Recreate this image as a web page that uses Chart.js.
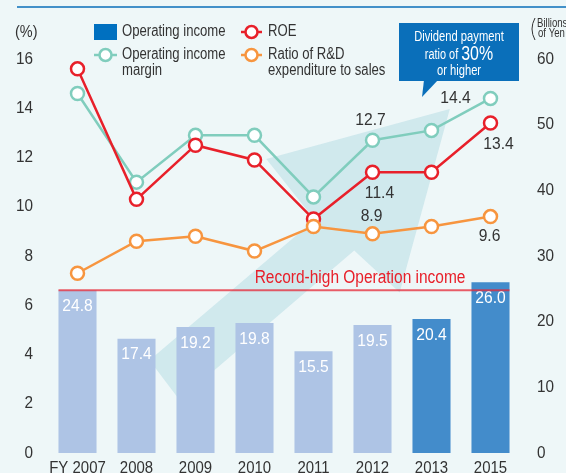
<!DOCTYPE html>
<html>
<head>
<meta charset="utf-8">
<script src="https://cdn.jsdelivr.net/npm/chart.js@4.4.1/dist/chart.umd.min.js"></script>
<style>
  html, body { margin: 0; padding: 0; background: #eef7f8; }
  #wrap { position: relative; width: 566px; height: 473px; }
</style>
</head>
<body>
<div id="wrap"><canvas id="chart"></canvas></div>
<script>
// fiscal years
const years = ['FY 2007', '2008', '2009', '2010', '2011', '2012', '2013', '2015'];
// billions of yen (right axis)
const operatingIncome = [24.8, 17.4, 19.2, 19.8, 15.5, 19.5, 20.4, 26.0];
// percent (left axis)
const roe = [15.6, 10.3, 12.5, 11.9, 9.5, 11.4, 11.4, 13.4];
const operatingMargin = [14.6, 11.0, 12.9, 12.9, 10.4, 12.7, 13.1, 14.4];
const rdRatio = [7.3, 8.6, 8.8, 8.2, 9.2, 8.9, 9.2, 9.6];
// years whose line points carry a value label
const labelledYears = ['2012', '2015'];

const FONT = "'Liberation Sans', Arial, sans-serif";
const BLUE = '#0a6fba';
const RED = '#e8202a';
const TEAL = '#80cdbd';
const ORANGE = '#f7953f';
const TEXT = '#333333';

// background arrow, in (category index, left-axis %) units
const arrowShape = [[1.22, 3.77], [1.73, 2.15], [4.69, 8.22], [5.46, 6.52],
                    [6.31, 13.97], [3.20, 11.94], [4.02, 9.47]];

// where each line's value label sits relative to its point
const labelOffsets = {
  'Operating income margin': { '2012': [-2, -20], '2015': [-35, 0] },
  'ROE': { '2012': [7, 21], '2015': [8, 21] },
  'Ratio of R&D expenditure to sales': { '2012': [-1, -18], '2015': [-1, 20] }
};

// the original uses a condensed face; squeeze a regular one to match
function squeezeText(ctx, text, x, y, size, squeeze, align) {
  ctx.save();
  ctx.font = `${size}px ${FONT}`;
  const w = ctx.measureText(text).width * squeeze;
  let left = x;
  if (align === 'center') left = x - w / 2;
  else if (align === 'right') left = x - w;
  ctx.translate(left, y);
  ctx.scale(squeeze, 1);
  ctx.textAlign = 'left';
  ctx.fillText(text, 0, 0);
  ctx.restore();
  return w;
}

function lineDataset(label, data, color, order) {
  return {
    type: 'line',
    label: label,
    data: data,
    yAxisID: 'y',
    borderColor: color,
    borderWidth: 2.5,
    pointRadius: 6.5,
    pointHoverRadius: 6.5,
    pointBorderWidth: 2.5,
    pointBackgroundColor: '#ffffff',
    pointBorderColor: color,
    tension: 0,
    order: order
  };
}

function drawMarker(ctx, x1, x2, y, color) {
  ctx.strokeStyle = color;
  ctx.lineWidth = 2.5;
  ctx.beginPath();
  ctx.moveTo(x1, y);
  ctx.lineTo(x2, y);
  ctx.stroke();
  ctx.beginPath();
  ctx.arc((x1 + x2) / 2, y, 6, 0, Math.PI * 2);
  ctx.fillStyle = '#ffffff';
  ctx.fill();
  ctx.stroke();
}

const arrowPlugin = {
  id: 'arrow',
  beforeDatasetsDraw(chart) {
    const { ctx, scales } = chart;
    ctx.save();
    ctx.fillStyle = 'rgba(170, 215, 225, 0.45)';
    ctx.beginPath();
    arrowShape.forEach(([cx, cy], i) => {
      const px = scales.x.getPixelForValue(cx);
      const py = scales.y.getPixelForValue(cy);
      if (i === 0) ctx.moveTo(px, py); else ctx.lineTo(px, py);
    });
    ctx.closePath();
    ctx.fill();
    ctx.restore();
  }
};

const annotationPlugin = {
  id: 'annotations',
  afterDatasetsDraw(chart) {
    const { ctx, scales } = chart;
    ctx.save();
    ctx.textBaseline = 'middle';

    // bar values
    const barMeta = chart.getDatasetMeta(0);
    ctx.fillStyle = '#ffffff';
    barMeta.data.forEach((bar, i) => {
      squeezeText(ctx, operatingIncome[i].toFixed(1), bar.x, bar.y + 16, 17, 0.92, 'center');
    });

    // record-high line at the FY2007 level
    const first = barMeta.data[0];
    const last = barMeta.data[barMeta.data.length - 1];
    const ry = scales.y1.getPixelForValue(operatingIncome[0]);
    ctx.strokeStyle = 'rgba(230, 40, 55, 0.75)';
    ctx.lineWidth = 2;
    ctx.beginPath();
    ctx.moveTo(first.x - first.width / 2, ry);
    ctx.lineTo(last.x + last.width / 2, ry);
    ctx.stroke();
    ctx.fillStyle = RED;
    squeezeText(ctx, 'Record-high Operation income', last.x - last.width / 2 - 6, ry - 12, 18, 0.86, 'right');

    // line value labels
    ctx.fillStyle = TEXT;
    chart.data.datasets.forEach((ds, di) => {
      if (ds.type !== 'line') return;
      const meta = chart.getDatasetMeta(di);
      labelledYears.forEach(yr => {
        const idx = years.indexOf(yr);
        const pt = meta.data[idx];
        const off = labelOffsets[ds.label][yr];
        squeezeText(ctx, ds.data[idx].toFixed(1), pt.x + off[0], pt.y + off[1], 17, 0.92, 'center');
      });
    });
    ctx.restore();
  },
  afterDraw(chart) {
    const { ctx, scales } = chart;
    ctx.save();
    ctx.textBaseline = 'middle';

    // axis tick labels
    ctx.fillStyle = TEXT;
    scales.y.ticks.forEach(t => {
      squeezeText(ctx, String(t.value), 33, scales.y.getPixelForValue(t.value), 17, 0.9, 'right');
    });
    scales.y1.ticks.forEach(t => {
      squeezeText(ctx, String(t.value), 537, scales.y1.getPixelForValue(t.value), 17, 0.9, 'left');
    });
    years.forEach((yr, i) => {
      squeezeText(ctx, yr, scales.x.getPixelForValue(i), 468, 17, 0.88, 'center');
    });

    // top rule
    ctx.strokeStyle = BLUE;
    ctx.lineWidth = 1.5;
    ctx.beginPath();
    ctx.moveTo(17, 7);
    ctx.lineTo(566, 7);
    ctx.stroke();

    ctx.fillStyle = TEXT;
    squeezeText(ctx, '(%)', 15, 32, 17, 0.85, 'left');

    // legend
    ctx.fillStyle = '#0070c0';
    ctx.fillRect(94, 24, 23, 16);
    ctx.fillStyle = TEXT;
    squeezeText(ctx, 'Operating income', 122, 32, 16, 0.82, 'left');
    drawMarker(ctx, 241, 262, 32, RED);
    ctx.fillStyle = TEXT;
    squeezeText(ctx, 'ROE', 268, 32, 16, 0.82, 'left');
    drawMarker(ctx, 94, 117, 55, TEAL);
    ctx.fillStyle = TEXT;
    squeezeText(ctx, 'Operating income', 122, 55, 16, 0.82, 'left');
    squeezeText(ctx, 'margin', 122, 71, 16, 0.82, 'left');
    drawMarker(ctx, 241, 262, 55, ORANGE);
    ctx.fillStyle = TEXT;
    squeezeText(ctx, 'Ratio of R&D', 268, 55, 16, 0.82, 'left');
    squeezeText(ctx, 'expenditure to sales', 268, 71, 16, 0.82, 'left');

    // dividend callout
    ctx.fillStyle = BLUE;
    ctx.fillRect(399, 23, 120, 58);
    ctx.beginPath();
    ctx.moveTo(424, 80);
    ctx.lineTo(438, 80);
    ctx.lineTo(422, 97);
    ctx.closePath();
    ctx.fill();
    ctx.fillStyle = '#ffffff';
    squeezeText(ctx, 'Dividend payment', 459, 37, 14, 0.8, 'center');
    squeezeText(ctx, 'or higher', 459, 71, 14, 0.8, 'center');
    ctx.font = `14px ${FONT}`;
    const w1 = ctx.measureText('ratio of ').width * 0.78;
    ctx.font = `21px ${FONT}`;
    const w2 = ctx.measureText('30%').width * 0.76;
    const sx = 459 - (w1 + w2) / 2;
    squeezeText(ctx, 'ratio of ', sx, 55, 14, 0.78, 'left');
    squeezeText(ctx, '30%', sx + w1, 54, 21, 0.76, 'left');

    // right axis unit
    ctx.fillStyle = TEXT;
    squeezeText(ctx, 'Billions', 537, 24, 12, 0.8, 'left');
    squeezeText(ctx, 'of Yen', 538, 34, 12, 0.8, 'left');
    ctx.strokeStyle = TEXT;
    ctx.lineWidth = 1;
    ctx.beginPath();
    ctx.moveTo(535, 18);
    ctx.quadraticCurveTo(529, 29, 535, 40);
    ctx.stroke();
    ctx.restore();
  }
};

const hiddenTicks = { display: false };

new Chart(document.getElementById('chart'), {
  type: 'bar',
  data: {
    labels: years,
    datasets: [
      {
        type: 'bar',
        label: 'Operating income',
        data: operatingIncome,
        yAxisID: 'y1',
        backgroundColor: ctx => ctx.dataIndex >= 6 ? '#438ccb' : '#aec4e5',
        barPercentage: 0.645,
        categoryPercentage: 1,
        order: 10
      },
      lineDataset('Ratio of R&D expenditure to sales', rdRatio, ORANGE, 1),
      lineDataset('ROE', roe, RED, 2),
      lineDataset('Operating income margin', operatingMargin, TEAL, 3)
    ]
  },
  options: {
    responsive: true,
    maintainAspectRatio: false,
    animation: false,
    layout: { padding: { top: 59, left: 0, right: 0, bottom: 0 } },
    plugins: {
      legend: { display: false },
      tooltip: { enabled: false }
    },
    scales: {
      x: {
        grid: { display: false, drawTicks: false },
        border: { display: false },
        ticks: hiddenTicks,
        afterFit: s => { s.height = 20; }
      },
      y: {
        position: 'left',
        min: 0,
        max: 16,
        grid: { display: false, drawTicks: false },
        border: { display: false },
        ticks: { display: false, stepSize: 2 },
        afterFit: s => { s.width = 48; }
      },
      y1: {
        position: 'right',
        min: 0,
        max: 60,
        grid: { display: false, drawTicks: false },
        border: { display: false },
        ticks: { display: false, stepSize: 10 },
        afterFit: s => { s.width = 46; }
      }
    }
  },
  plugins: [arrowPlugin, annotationPlugin]
});
</script>
</body>
</html>
